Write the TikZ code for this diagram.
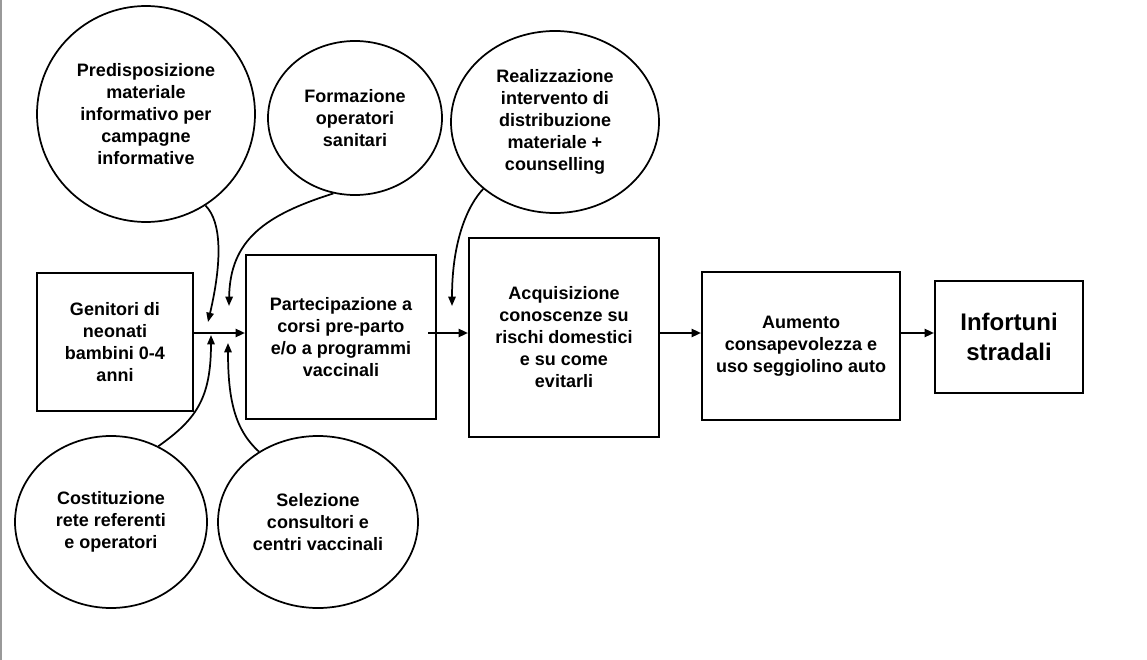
\documentclass[tikz,border=0pt]{standalone}
\usepackage{fontspec}
\setmainfont{Liberation Sans}
\usetikzlibrary{shapes.geometric,arrows.meta}

\begin{document}
\begin{tikzpicture}[x=0.75pt, y=-0.75pt,
  box/.style={rectangle, draw, line width=1.5pt, align=center, inner sep=0pt, font=\bfseries\fontsize{13.5}{16.5}\selectfont},
  bubble/.style={ellipse, draw, line width=1.3pt, align=center, inner sep=0pt, font=\bfseries\fontsize{13.5}{16.5}\selectfont},
  arrow/.style={-{Triangle[length=7pt,width=6pt]}, line width=1.6pt},
  feed/.style={-{Triangle[length=7pt,width=5.5pt]}, line width=1.3pt}
]
  \useasboundingbox (0,0) rectangle (1147,660);
  \draw[black!40, line width=1.3pt] (1,0) -- (1,660);

  \node (gen) [box, minimum width=117pt, minimum height=103.5pt] at (115,342) {Genitori di\\neonati\\bambini 0-4\\anni};
  \node (part) [box, minimum width=142.5pt, minimum height=123pt] at (341,337) {Partecipazione a\\corsi pre-parto\\e/o a programmi\\vaccinali};
  \node (acq) [box, minimum width=142.5pt, minimum height=149.25pt] at (564,337.5) {Acquisizione\\conoscenze su\\rischi domestici\\e su come\\evitarli};
  \node (aum) [box, minimum width=148.5pt, minimum height=111pt] at (801,346) {Aumento\\consapevolezza e\\uso seggiolino auto};
  \node (inf) [box, minimum width=111pt, minimum height=84pt, font=\bfseries\fontsize{18}{22.5}\selectfont] at (1009,337) {Infortuni\\stradali};

  \node (pred) [bubble, minimum width=163.5pt, minimum height=162pt] at (146,114) {Predisposizione\\materiale\\informativo per\\campagne\\informative};
  \node (form) [bubble, minimum width=130.5pt, minimum height=115.5pt] at (355,118) {Formazione\\operatori\\sanitari};
  \node (real) [bubble, minimum width=156pt, minimum height=136.5pt] at (555,122) {Realizzazione\\intervento di\\distribuzione\\materiale +\\counselling};
  \node (cost) [bubble, minimum width=144pt, minimum height=129pt] at (111,522) {Costituzione\\rete referenti\\e operatori};
  \node (sel) [bubble, minimum width=150pt, minimum height=129pt] at (318,522) {Selezione\\consultori e\\centri vaccinali};

  \coordinate (axis) at (0,333);
  \coordinate (pend) at (208,322);
  \coordinate (fend) at (229,306);
  \coordinate (rend) at (452,306);
  \coordinate (cend) at (211,335);
  \coordinate (send) at (228,343);

  \draw [arrow] (gen.east |- axis) -- (part.west |- axis);
  \draw [arrow, shorten <=-6.75pt] (part.east |- axis) -- (acq.west |- axis);
  \draw [arrow] (acq.east |- axis) -- (aum.west |- axis);
  \draw [arrow] (aum.east |- axis) -- (inf.west |- axis);

  \draw [feed] (pred.-57) .. controls (222,222) and (222,262) .. (pend);
  \draw [feed] (form.-106) .. controls (265,215) and (230,240) .. (fend);
  \draw [feed] (real.-137) .. controls (468,205) and (452,240) .. (rend);
  \draw [feed] (cost.58) .. controls (195,420) and (211,400) .. (cend);
  \draw [feed] (sel.130) .. controls (235,430) and (228,400) .. (send);
\end{tikzpicture}
\end{document}
